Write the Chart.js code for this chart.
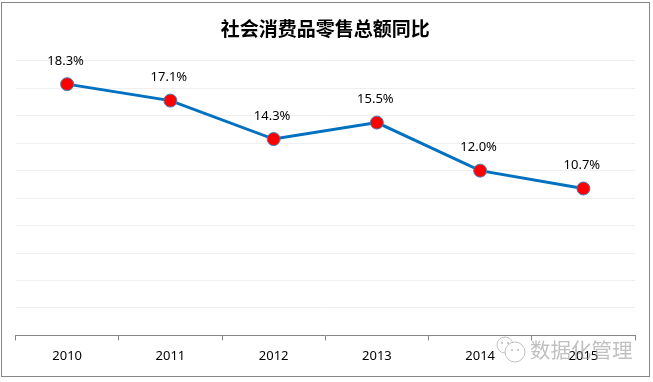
<!DOCTYPE html>
<html lang="zh">
<head>
    <meta charset="UTF-8">
    <title>社会消费品零售总额同比</title>
    <script src="https://cdn.jsdelivr.net/npm/chart.js"></script>
    <style>
        html, body { margin: 0; padding: 0; background: #fff; overflow: hidden; }
        #frame { position: absolute; left: 1px; top: 2px; width: 647px; height: 373px; border: 1px solid #868686; }
        #box { position: absolute; left: 0; top: 0; width: 653px; height: 382px; }
    </style>
</head>
<body>
    <div id="frame"></div>
    <div id="box"><canvas id="chart"></canvas></div>

    <script>
        const years = ['2010', '2011', '2012', '2013', '2014', '2015'];
        const growth = [18.3, 17.1, 14.3, 15.5, 12.0, 10.7];
        const chartTitle = '社会消费品零售总额同比';
        const watermark = '数据化管理';

        // value labels above each point
        const pointLabels = {
            id: 'pointLabels',
            afterDatasetsDraw(chart) {
                const ctx = chart.ctx;
                ctx.save();
                ctx.font = '13px "Noto Sans", sans-serif';
                ctx.fillStyle = '#000';
                ctx.textAlign = 'center';
                ctx.textBaseline = 'middle';
                chart.getDatasetMeta(0).data.forEach((pt, i) => {
                    ctx.fillText(growth[i].toFixed(1) + '%', pt.x - 1.5, pt.y - 23);
                });
                ctx.restore();
            }
        };

        // gray wechat style mark over the bottom right corner
        const wechatMark = {
            id: 'wechatMark',
            afterDraw(chart) {
                const ctx = chart.ctx;
                ctx.save();
                ctx.strokeStyle = 'rgba(170,170,170,0.7)';
                ctx.lineWidth = 1;
                ctx.beginPath();
                ctx.arc(505, 345, 8, 0, Math.PI * 2);
                ctx.stroke();
                ctx.fillStyle = '#fff';
                ctx.beginPath();
                ctx.arc(515, 352, 10, 0, Math.PI * 2);
                ctx.fill();
                ctx.stroke();
                ctx.fillStyle = 'rgba(170,170,170,0.8)';
                [[502, 343], [508, 343], [512, 350], [518, 350]].forEach(p => {
                    ctx.beginPath();
                    ctx.arc(p[0], p[1], 1, 0, Math.PI * 2);
                    ctx.fill();
                });
                ctx.font = '20.5px "Noto Sans CJK SC", sans-serif';
                ctx.textAlign = 'left';
                ctx.textBaseline = 'middle';
                ctx.fillStyle = 'rgba(150,150,150,0.6)';
                ctx.fillText(watermark, 530, 350);
                ctx.restore();
            }
        };

        new Chart(document.getElementById('chart'), {
            type: 'line',
            data: {
                labels: years,
                datasets: [{
                    data: growth,
                    borderColor: '#0070C0',
                    borderWidth: 3,
                    tension: 0,
                    pointRadius: 6.5,
                    pointHoverRadius: 6.5,
                    pointBackgroundColor: '#FF0000',
                    pointBorderColor: '#4A7EBB',
                    pointBorderWidth: 1
                }]
            },
            options: {
                responsive: true,
                maintainAspectRatio: false,
                animation: false,
                layout: { padding: { left: 15.5, right: 18, top: 17, bottom: 10 } },
                plugins: {
                    legend: { display: false },
                    tooltip: { enabled: false },
                    title: {
                        display: true,
                        text: chartTitle,
                        color: '#000',
                        font: { family: '"Noto Sans CJK SC", sans-serif', size: 19, weight: 'bold' },
                        padding: { top: 0, bottom: 21 }
                    }
                },
                scales: {
                    x: {
                        offset: true,
                        border: { color: '#868686', width: 1 },
                        grid: { offset: true, drawOnChartArea: false, color: '#868686', tickLength: 5 },
                        ticks: { color: '#000', padding: 8, maxRotation: 0, font: { family: '"Noto Sans", sans-serif', size: 13 } }
                    },
                    y: {
                        min: 0,
                        max: 20,
                        afterFit(axis) { axis.width = 0; },
                        border: { display: false },
                        grid: { color: '#EFEFEF', drawTicks: false },
                        ticks: { display: false, stepSize: 2 }
                    }
                }
            },
            plugins: [pointLabels, wechatMark]
        });
    </script>
</body>
</html>
